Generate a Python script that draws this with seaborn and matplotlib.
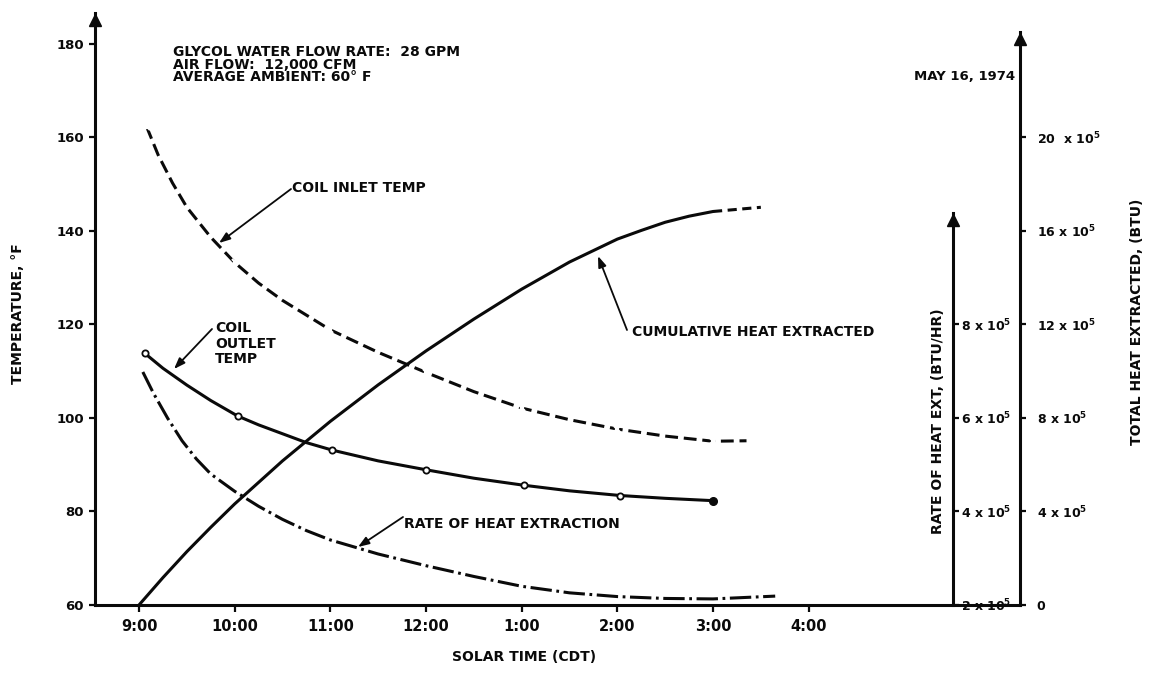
import matplotlib
matplotlib.use("Agg")
import matplotlib.pyplot as plt
from matplotlib.ticker import FixedLocator, FixedFormatter
import seaborn as sns
import pandas as pd

# ---- data (solar time as decimal hours, 9.0 = 9:00) ----
inlet_time = [9.08, 9.2, 9.35, 9.5, 9.75, 10.0, 10.25, 10.5, 11.0, 11.5, 12.0,
              12.5, 13.0, 13.5, 14.0, 14.5, 15.0, 15.35]
inlet_temp = [162.2, 156.2, 150.2, 145.0, 138.6, 133.2, 128.8, 125.1, 118.8,
              114.0, 109.7, 105.6, 102.1, 99.6, 97.6, 96.1, 95.0, 95.1]

outlet_time = [9.06, 9.25, 9.5, 9.75, 10.03, 10.25, 10.5, 10.75, 11.02, 11.5,
               12.0, 12.5, 13.02, 13.5, 14.03, 14.5, 15.0]
outlet_temp = [113.8, 110.6, 107.0, 103.7, 100.4, 98.5, 96.6, 94.7, 93.1, 90.8,
               88.9, 87.1, 85.6, 84.4, 83.4, 82.8, 82.3]

rate_time = [9.04, 9.15, 9.3, 9.45, 9.6, 9.75, 10.0, 10.25, 10.5, 10.75, 11.0,
             11.5, 12.0, 12.5, 13.0, 13.5, 14.0, 14.5, 15.0, 15.65]
rate_btu_hr = [6.98e5, 6.53e5, 5.99e5, 5.51e5, 5.12e5, 4.80e5, 4.43e5, 4.11e5,
               3.83e5, 3.59e5, 3.39e5, 3.09e5, 2.84e5, 2.61e5, 2.40e5, 2.26e5,
               2.18e5, 2.14e5, 2.13e5, 2.19e5]

cum_time = [9.0, 9.25, 9.5, 9.75, 10.0, 10.5, 11.0, 11.5, 12.0, 12.5, 13.0,
            13.5, 14.0, 14.25, 14.5, 14.75, 15.0, 15.5]
cum_btu = [0.0, 1.17e5, 2.28e5, 3.32e5, 4.32e5, 6.16e5, 7.85e5, 9.41e5,
           10.86e5, 12.22e5, 13.5e5, 14.66e5, 15.64e5, 16.01e5, 16.36e5,
           16.62e5, 16.82e5, 17.0e5]

x_ticks = [9, 10, 11, 12, 13, 14, 15, 16]
x_tick_labels = ["9:00", "10:00", "11:00", "12:00", "1:00", "2:00", "3:00", "4:00"]
temp_ticks = [60, 80, 100, 120, 140, 160, 180]
rate_ticks = [2e5, 4e5, 6e5, 8e5]
rate_tick_labels = ["2 x 10$^5$", "4 x 10$^5$", "6 x 10$^5$", "8 x 10$^5$"]
total_ticks = [0, 4e5, 8e5, 12e5, 16e5, 20e5]
total_tick_labels = ["0", "4 x 10$^5$", "8 x 10$^5$", "12 x 10$^5$",
                     "16 x 10$^5$", "20  x 10$^5$"]

# ---- style ----
sns.set_theme(style="white")
plt.rcParams["font.family"] = ["DejaVu Sans"]
plt.rcParams["font.weight"] = "bold"
plt.rcParams["mathtext.fontset"] = "dejavusans"
plt.rcParams["mathtext.default"] = "bf"

W, H = 1151, 677
fig = plt.figure(figsize=(W / 100, H / 100), dpi=100, facecolor="white")

# pixel geometry of the frame
x_left_px, x_right_px = 95, 1020
y_bottom_px, y_top_px = 605, 13
px_per_hour = 95.67
px_per_degF = 4.679
hour_at_left = 9 - (139 - x_left_px) / px_per_hour
hour_at_right = 9 + (x_right_px - 139) / px_per_hour
T_LO = 60.0
T_HI = T_LO + (y_bottom_px - y_top_px) / px_per_degF

ax = fig.add_axes([x_left_px / W, (H - y_bottom_px) / H,
                   (x_right_px - x_left_px) / W, (y_bottom_px - y_top_px) / H])
ax.set_facecolor("none")
ax.set_xlim(hour_at_left, hour_at_right)
ax.set_ylim(T_LO, T_HI)

# secondary scales share tick rows with the temperature axis:
# rate: 2x10^5 at 60 F, +2x10^5 per 20 F ; total: 0 at 60 F, +4x10^5 per 20 F
def temp_to_rate(t):
    return 2e5 + (t - 60.0) * 1e4

def temp_to_total(t):
    return (t - 60.0) * 2e4

ax_rate = ax.twinx()
ax_total = ax.twinx()
ax_rate.set_ylim(temp_to_rate(T_LO), temp_to_rate(T_HI))
ax_total.set_ylim(temp_to_total(T_LO), temp_to_total(T_HI))

LW = 2.2
INK = "#0a0a0a"
line_common = dict(estimator=None, sort=False, solid_joinstyle="round",
                   dash_joinstyle="round", solid_capstyle="round")

# coil inlet temperature (dashed)
sns.lineplot(x=inlet_time, y=inlet_temp, ax=ax, color=INK, lw=LW,
             linestyle=(0, (4.2, 1.9)), marker="x", markersize=5,
             markeredgewidth=1.6, markevery=[0, 5, 8, 10, 12, 14, 16],
             **line_common)

# coil outlet temperature (solid with circles)
sns.lineplot(x=outlet_time, y=outlet_temp, ax=ax, color=INK, lw=LW,
             marker="o", markersize=4.5, markerfacecolor="white",
             markeredgecolor=INK, markeredgewidth=1.3,
             markevery=[0, 4, 8, 10, 12, 14], **line_common)
ax.plot(outlet_time[-1], outlet_temp[-1], "o", color=INK, ms=5.5)

# rate of heat extraction (dash-dot) on the middle axis
sns.lineplot(x=rate_time, y=rate_btu_hr, ax=ax_rate, color=INK, lw=LW,
             linestyle=(0, (7, 1.5, 0.9, 1.5)), **line_common)

# cumulative heat extracted on the right axis: solid, dashed past 3:00
cum_df = pd.DataFrame({"time": cum_time, "btu": cum_btu})
solid_part = cum_df[cum_df["time"] <= 15.0]
dashed_part = cum_df[cum_df["time"] >= 15.0]
sns.lineplot(data=solid_part, x="time", y="btu", ax=ax_total, color=INK,
             lw=LW, **line_common)
sns.lineplot(data=dashed_part, x="time", y="btu", ax=ax_total, color=INK,
             lw=LW, linestyle=(0, (3, 1.8)), **line_common)

# ---- axes, spines, ticks ----
for a in (ax, ax_rate, ax_total):
    a.grid(False)
    a.set_xlabel("")
    a.set_ylabel("")
    for s in a.spines.values():
        s.set_color(INK)
        s.set_linewidth(LW)

ax.spines["top"].set_visible(False)
ax.spines["right"].set_visible(False)
for a in (ax_rate, ax_total):
    for side in ("left", "top", "bottom"):
        a.spines[side].set_visible(False)

rate_spine_frac = (953 - x_left_px) / (x_right_px - x_left_px)
rate_top = temp_to_rate(T_LO + (y_bottom_px - 213) / px_per_degF)
total_top = temp_to_total(T_LO + (y_bottom_px - 32) / px_per_degF)

ax_rate.spines["right"].set_position(("axes", rate_spine_frac))
ax_rate.spines["right"].set_bounds(temp_to_rate(T_LO), rate_top)
ax_total.spines["right"].set_bounds(temp_to_total(T_LO), total_top)
ax.spines["left"].set_bounds(T_LO, T_HI)

# arrowheads on the vertical axes
ax.plot([0], [T_HI - 1.5], marker="^", ms=8, color=INK,
        transform=ax.get_yaxis_transform(), clip_on=False)
ax_rate.plot([rate_spine_frac], [rate_top - 1.5e4], marker="^", ms=8,
             color=INK, transform=ax_rate.get_yaxis_transform(), clip_on=False)
ax_total.plot([1.0], [total_top - 3e4], marker="^", ms=8, color=INK,
              transform=ax_total.get_yaxis_transform(), clip_on=False)

ax.xaxis.set_major_locator(FixedLocator(x_ticks))
ax.xaxis.set_major_formatter(FixedFormatter(x_tick_labels))
ax.yaxis.set_major_locator(FixedLocator(temp_ticks))
ax.yaxis.set_major_formatter(FixedFormatter([str(t) for t in temp_ticks]))
ax.tick_params(axis="x", direction="out", length=5, width=1.6, pad=5,
               labelsize=10.5, colors=INK, bottom=True)
ax.tick_params(axis="y", direction="out", length=4, width=1.6, pad=4,
               labelsize=9.5, colors=INK, left=True)

ax_rate.yaxis.set_ticks_position("right")
ax_rate.yaxis.set_major_locator(FixedLocator(rate_ticks))
ax_rate.yaxis.set_major_formatter(FixedFormatter(rate_tick_labels))
ax_rate.tick_params(axis="y", direction="out", length=4, width=1.6, pad=2,
                    labelsize=9, colors=INK, right=True)

ax_total.yaxis.set_ticks_position("right")
ax_total.yaxis.set_major_locator(FixedLocator(total_ticks))
ax_total.yaxis.set_major_formatter(FixedFormatter(total_tick_labels))
ax_total.tick_params(axis="y", direction="out", length=4, width=1.6, pad=8,
                     labelsize=9, colors=INK, right=True)

for lab in (ax.get_xticklabels() + ax.get_yticklabels()
            + ax_rate.get_yticklabels() + ax_total.get_yticklabels()):
    lab.set_fontweight("bold")


def px(xp, yp):
    """Figure fraction from pixel position."""
    return xp / W, (H - yp) / H


def data_pt(xp, yp):
    """Temperature-axes data coordinates from pixel position."""
    return (9 + (xp - 139) / px_per_hour, T_LO + (y_bottom_px - yp) / px_per_degF)


# axis titles
fig.text(*px(18, 314), "TEMPERATURE, °F", rotation=90, ha="center",
         va="center", fontsize=10, fontweight="bold", color=INK)
fig.text(*px(524, 657), "SOLAR TIME (CDT)", ha="center", va="center",
         fontsize=10, fontweight="bold", color=INK)
fig.text(*px(938, 421), "RATE OF HEAT EXT, (BTU/HR)", rotation=90,
         ha="center", va="center", fontsize=10, fontweight="bold", color=INK)
fig.text(*px(1137, 322), "TOTAL HEAT EXTRACTED, (BTU)", rotation=90,
         ha="center", va="center", fontsize=10, fontweight="bold", color=INK)
fig.text(*px(1015, 76), "MAY 16, 1974", ha="right", va="center",
         fontsize=9.5, fontweight="bold", color=INK)

# test conditions
for yy, line in zip((52, 65, 77), ("GLYCOL WATER FLOW RATE:  28 GPM",
                                   "AIR FLOW:  12,000 CFM",
                                   "AVERAGE AMBIENT: 60° F")):
    fig.text(*px(173, yy), line, ha="left", va="center", fontsize=10,
             fontweight="bold", color=INK)

# curve call-outs
label_kw = dict(fontsize=10, fontweight="bold", color=INK, va="center",
                ha="left")
arrow_kw = dict(arrowstyle="-|>,head_length=0.55,head_width=0.2", lw=1.3,
                color=INK, shrinkA=0, shrinkB=0)

ax.text(*data_pt(292, 188), "COIL INLET TEMP", **label_kw)
ax.annotate("", xy=data_pt(219, 243), xytext=data_pt(291, 189),
            arrowprops=arrow_kw)

ax.text(*data_pt(215, 328), "COIL", **label_kw)
ax.text(*data_pt(215, 344), "OUTLET", **label_kw)
ax.text(*data_pt(215, 359), "TEMP", **label_kw)
ax.annotate("", xy=data_pt(174, 369), xytext=data_pt(212, 329),
            arrowprops=arrow_kw)

ax.text(*data_pt(404, 524), "RATE OF HEAT EXTRACTION", **label_kw)
ax.annotate("", xy=data_pt(358, 547), xytext=data_pt(403, 517),
            arrowprops=arrow_kw)

ax.text(*data_pt(632, 332), "CUMULATIVE HEAT EXTRACTED", **label_kw)
ax.annotate("", xy=data_pt(598, 256), xytext=data_pt(627, 330),
            arrowprops=arrow_kw)

fig.savefig("out.png", dpi=100, facecolor="white")
